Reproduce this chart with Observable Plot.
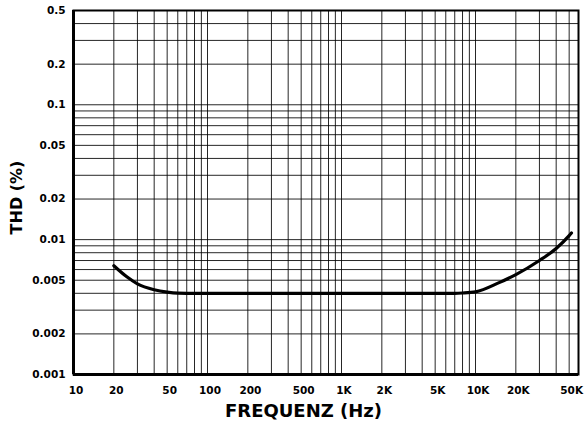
<!DOCTYPE html>
<html>
<head>
<meta charset="utf-8">
<script src="https://cdn.jsdelivr.net/npm/d3@7"></script>
<script src="https://cdn.jsdelivr.net/npm/@observablehq/plot@0.6"></script>
<style>
  html, body { margin: 0; padding: 0; background: #fff; }
  #chart { width: 586px; height: 428px; }
</style>
</head>
<body>
<div id="chart"></div>
<script>
// Curve: THD (%) vs frequency (Hz)
const freq = [20, 25, 30, 40, 50, 60, 70, 100, 1000, 7000, 8000, 10000, 15000, 20000, 30000, 40000, 50000, 52000];
const thd  = [0.0064, 0.0053, 0.0047, 0.00425, 0.00408, 0.00401, 0.004, 0.004, 0.004, 0.004, 0.00402, 0.0041, 0.0048, 0.0055, 0.0070, 0.0086, 0.0107, 0.0112];

// Tick labels
const xTicks = [10, 20, 50, 100, 200, 500, 1000, 2000, 5000, 10000, 20000, 50000];
const xTickLabels = ["10", "20", "50", "100", "200", "500", "1K", "2K", "5K", "10K", "20K", "50K"];
const yTicks = [0.001, 0.002, 0.005, 0.01, 0.02, 0.05, 0.1, 0.2, 0.5];
const yTickLabels = ["0.001", "0.002", "0.005", "0.01", "0.02", "0.05", "0.1", "0.2", "0.5"];
const xTitle = "FREQUENZ (Hz)";
const yTitle = "THD (%)";

// Grid lines (log paper)
const gridX = [20, 30, 40, 50, 60, 70, 80, 90, 100,
  200, 300, 400, 500, 600, 700, 800, 900, 1000,
  2000, 3000, 4000, 5000, 6000, 7000, 8000, 9000, 10000,
  20000, 30000, 40000, 50000];
const gridY = [0.002, 0.003, 0.004, 0.005, 0.006, 0.007, 0.008, 0.009, 0.01,
  0.02, 0.03, 0.04, 0.05, 0.06, 0.07, 0.08, 0.09, 0.1,
  0.2, 0.3, 0.4];

const data = freq.map((f, i) => ({f, v: thd[i]}));
const font = "'DejaVu Sans', 'Liberation Sans', Arial, sans-serif";

const chart = Plot.plot({
  width: 586,
  height: 428,
  marginLeft: 73,
  marginRight: 8,
  marginTop: 10,
  marginBottom: 54,
  style: {fontFamily: font, fontWeight: "bold", fontSize: "10.5px", color: "#000", background: "#fff"},
  x: {type: "log", domain: [10, 58700], axis: null},
  y: {type: "log", domain: [0.001, 0.5], axis: null},
  marks: [
    Plot.ruleX(gridX, {stroke: "#000", strokeWidth: 1, strokeOpacity: 0.85}),
    Plot.ruleY(gridY, {stroke: "#000", strokeWidth: 1, strokeOpacity: 0.85}),
    Plot.frame({stroke: "#000", strokeWidth: 2}),
    Plot.ruleX([10], {stroke: "#000", strokeWidth: 3}),
    Plot.ruleY([0.001], {stroke: "#000", strokeWidth: 3}),
    Plot.line(data, {x: "f", y: "v", stroke: "#000", strokeWidth: 3.2, curve: "monotone-x"}),
    // tick labels
    Plot.text(xTicks, {x: (d) => d, text: (d, i) => xTickLabels[i], frameAnchor: "bottom", dx: 2.5, dy: 16, lineAnchor: "middle", textAnchor: "middle", fill: "#000"}),
    Plot.text(yTicks, {y: (d) => d, text: (d, i) => yTickLabels[i], frameAnchor: "left", dx: -8, textAnchor: "end", lineAnchor: "middle", fill: "#000"}),
    // axis titles
    Plot.text([xTitle], {text: (d) => d, frameAnchor: "bottom", dx: -22.5, dy: 37, lineAnchor: "middle", textAnchor: "middle", fontSize: 18, fill: "#000"}),
    Plot.text([yTitle], {text: (d) => d, frameAnchor: "left", dx: -57, dy: 5, rotate: -90, lineAnchor: "middle", textAnchor: "middle", fontSize: 16, fill: "#000"})
  ]
});
document.getElementById("chart").appendChild(chart);
</script>
</body>
</html>
